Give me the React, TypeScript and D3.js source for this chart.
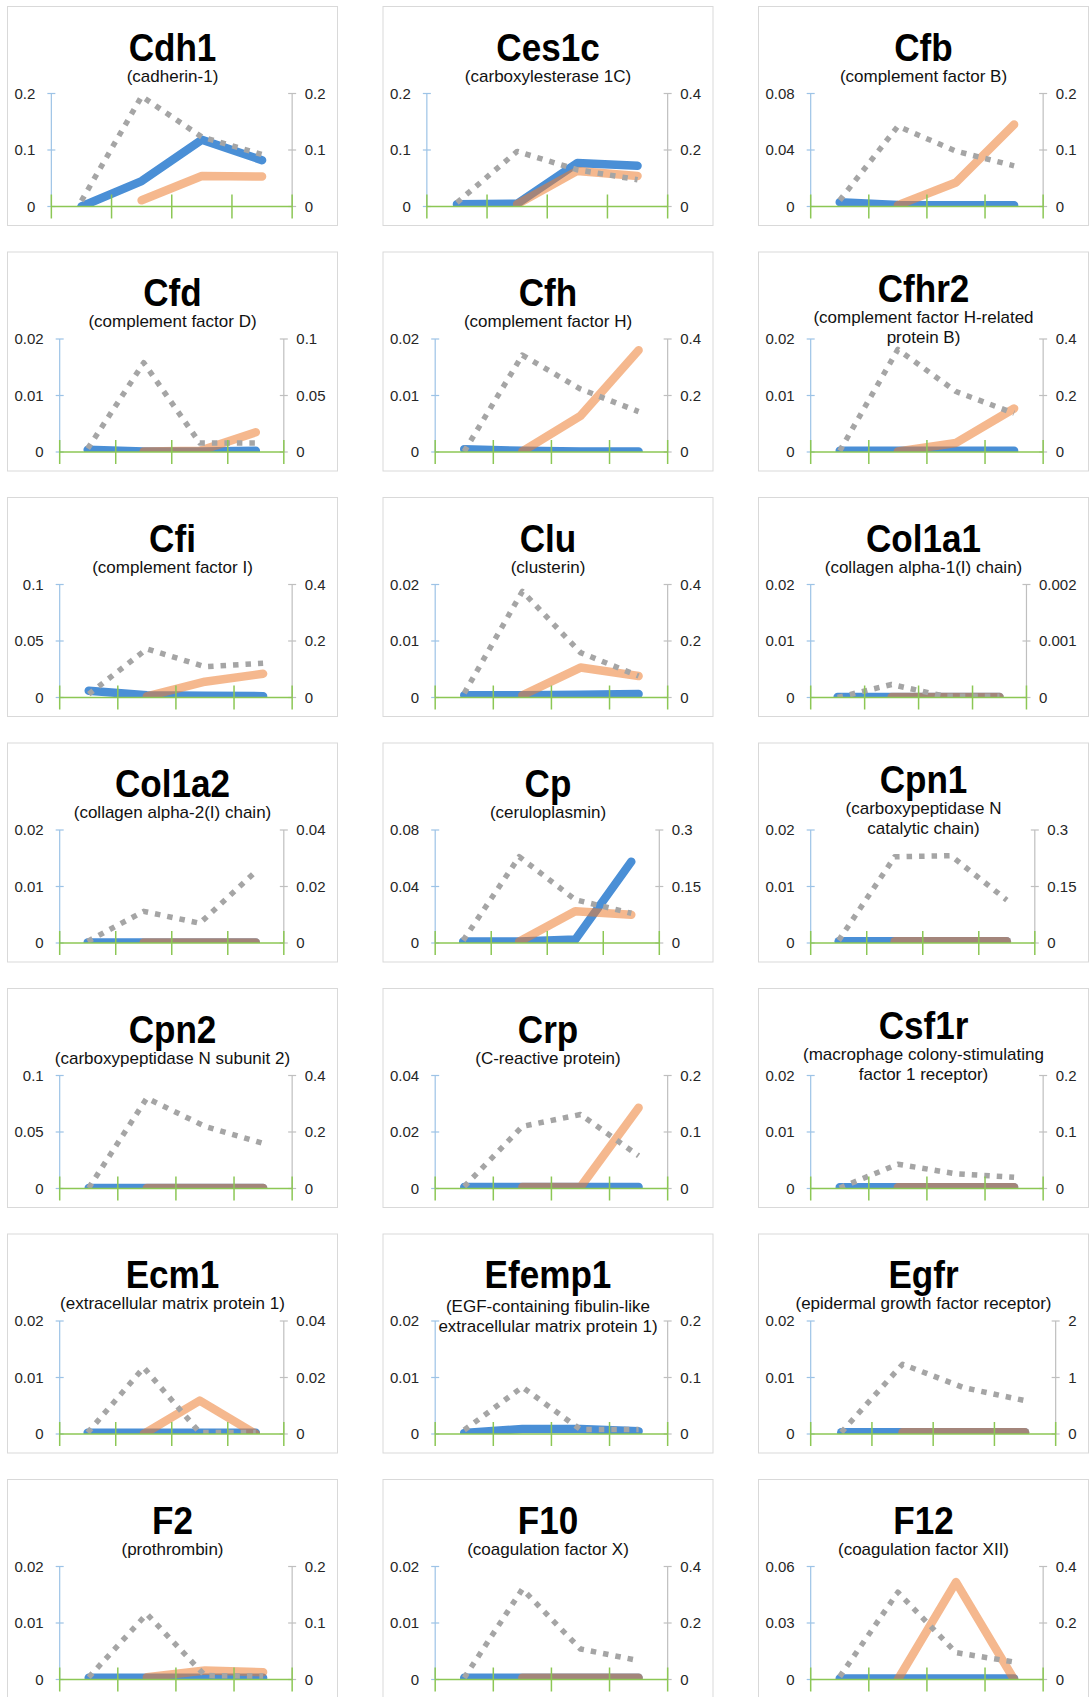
import React from 'react';
import * as d3 from 'd3';

// four sampling points per gene (x categories are unlabeled in the figure)
const categories = ['P1', 'P2', 'P3', 'P4'];

const genes = [
  'Cdh1', 'Ces1c', 'Cfb', 'Cfd', 'Cfh', 'Cfhr2', 'Cfi', 'Clu', 'Col1a1', 'Col1a2', 'Cp',
  'Cpn1', 'Cpn2', 'Crp', 'Csf1r', 'Ecm1', 'Efemp1', 'Egfr', 'F2', 'F10', 'F12',
];

const proteins = [
  ['(cadherin-1)'],
  ['(carboxylesterase 1C)'],
  ['(complement factor B)'],
  ['(complement factor D)'],
  ['(complement factor H)'],
  ['(complement factor H-related', 'protein B)'],
  ['(complement factor I)'],
  ['(clusterin)'],
  ['(collagen alpha-1(I) chain)'],
  ['(collagen alpha-2(I) chain)'],
  ['(ceruloplasmin)'],
  ['(carboxypeptidase N', 'catalytic chain)'],
  ['(carboxypeptidase N subunit 2)'],
  ['(C-reactive protein)'],
  ['(macrophage colony-stimulating', 'factor 1 receptor)'],
  ['(extracellular matrix protein 1)'],
  ['(EGF-containing fibulin-like', 'extracellular matrix protein 1)'],
  ['(epidermal growth factor receptor)'],
  ['(prothrombin)'],
  ['(coagulation factor X)'],
  ['(coagulation factor XII)'],
];

// primary (left) axis tick labels
const leftTicks = [
  ['0', '0.1', '0.2'], ['0', '0.1', '0.2'], ['0', '0.04', '0.08'],
  ['0', '0.01', '0.02'], ['0', '0.01', '0.02'], ['0', '0.01', '0.02'],
  ['0', '0.05', '0.1'], ['0', '0.01', '0.02'], ['0', '0.01', '0.02'],
  ['0', '0.01', '0.02'], ['0', '0.04', '0.08'], ['0', '0.01', '0.02'],
  ['0', '0.05', '0.1'], ['0', '0.02', '0.04'], ['0', '0.01', '0.02'],
  ['0', '0.01', '0.02'], ['0', '0.01', '0.02'], ['0', '0.01', '0.02'],
  ['0', '0.01', '0.02'], ['0', '0.01', '0.02'], ['0', '0.03', '0.06'],
];

// secondary (right) axis tick labels
const rightTicks = [
  ['0', '0.1', '0.2'], ['0', '0.2', '0.4'], ['0', '0.1', '0.2'],
  ['0', '0.05', '0.1'], ['0', '0.2', '0.4'], ['0', '0.2', '0.4'],
  ['0', '0.2', '0.4'], ['0', '0.2', '0.4'], ['0', '0.001', '0.002'],
  ['0', '0.02', '0.04'], ['0', '0.15', '0.3'], ['0', '0.15', '0.3'],
  ['0', '0.2', '0.4'], ['0', '0.1', '0.2'], ['0', '0.1', '0.2'],
  ['0', '0.02', '0.04'], ['0', '0.1', '0.2'], ['0', '1', '2'],
  ['0', '0.1', '0.2'], ['0', '0.2', '0.4'], ['0', '0.2', '0.4'],
];

// blue series, left axis
const blueSeries = [
  [0, 0.045, 0.118, 0.082],
  [0.004, 0.005, 0.077, 0.072],
  [0.003, 0.001, 0.0008, 0.0008],
  [0.0004, 0.0001, 0.0001, 0.0002],
  [0.0005, 0.0002, 0.0001, 0.0001],
  [0.0002, 0.0002, 0.0002, 0.0002],
  [0.006, 0.002, 0.0015, 0.0012],
  [0.0004, 0.0004, 0.0005, 0.0006],
  [0.0001, 0.0001, 0.0001, 0.0001],
  [0.0001, 0.0001, 0.0001, 0.0001],
  [0.001, 0.001, 0.0024, 0.0576],
  [0.0003, 0.0003, 0.0003, 0.0003],
  [0.0005, 0.0005, 0.0005, 0.0005],
  [0.0005, 0.0005, 0.0005, 0.0005],
  [0.0002, 0.0002, 0.0002, 0.0002],
  [0.0002, 0.0002, 0.0002, 0.0002],
  [0.0002, 0.0009, 0.0009, 0.0005],
  [0.0003, 0.0003, 0.0003, 0.0003],
  [0.0003, 0.0003, 0.0003, 0.0003],
  [0.0003, 0.0003, 0.0003, 0.0003],
  [0.0005, 0.0005, 0.0005, 0.0005],
];

// orange series, left axis (no value at the first point)
const orangeSeries: (number | null)[][] = [
  [null, 0.011, 0.054, 0.053],
  [null, 0.004, 0.063, 0.054],
  [null, 0.001, 0.017, 0.058],
  [null, 0.0001, 0.0002, 0.0035],
  [null, 0.0001, 0.0064, 0.018],
  [null, 0.0001, 0.0016, 0.0077],
  [null, 0.001, 0.014, 0.021],
  [null, 0.0004, 0.0053, 0.0038],
  [null, 0.0001, 0.0001, 0.0001],
  [null, 0.0001, 0.0001, 0.0001],
  [null, 0.001, 0.0224, 0.02],
  [null, 0.0003, 0.0003, 0.0003],
  [null, 0.0005, 0.0005, 0.0005],
  [null, 0.0005, 0.0005, 0.0286],
  [null, 0.0002, 0.0002, 0.0002],
  [null, 0, 0.0059, 0],
  [null, null, null, null],
  [null, 0.0003, 0.0003, 0.0003],
  [null, 0.0004, 0.0016, 0.0013],
  [null, 0.0003, 0.0003, 0.0003],
  [null, 0, 0.0517, 0],
];

// grey dotted series, right axis
const greySeries = [
  [0.01, 0.195, 0.123, 0.092],
  [0.014, 0.195, 0.13, 0.095],
  [0.011, 0.142, 0.098, 0.072],
  [0.003, 0.079, 0.008, 0.008],
  [0.002, 0.343, 0.223, 0.143],
  [0.004, 0.363, 0.214, 0.137],
  [0.012, 0.172, 0.109, 0.121],
  [0.015, 0.376, 0.159, 0.076],
  [0, 0.00023, 0.00002, 0.00002],
  [0.0006, 0.0112, 0.007, 0.0253],
  [0.007, 0.229, 0.115, 0.079],
  [0.007, 0.229, 0.232, 0.114],
  [0.002, 0.32, 0.22, 0.16],
  [0.0035, 0.11, 0.131, 0.058],
  [0.001, 0.043, 0.026, 0.02],
  [0.0005, 0.0235, 0.0005, 0.0005],
  [0.007, 0.083, 0.008, 0.008],
  [0.03, 1.235, 0.82, 0.59],
  [0.004, 0.116, 0.007, 0.006],
  [0.006, 0.32, 0.108, 0.067],
  [0.01, 0.309, 0.095, 0.062],
];

const W = 1090;
const H = 1697;
const PANEL_W = 330;
const PANEL_H = 219;
const FONT = "'Liberation Sans', Arial, sans-serif";
// a couple of subtitles sit a little lower in the original layout
const subtitleShift: Record<string, number> = { Efemp1: 7 };

// rough width of a 15px tick label
const labelWidth = (s: string) =>
  s.split('').reduce((a, c) => a + (c === '.' ? 4.17 : 8.34), 0);

function Panel({ i }: { i: number }) {
  const col = i % 3;
  const row = Math.floor(i / 3);
  const px = 7.5 + col * 375.5;
  const py = 6.5 + row * 245.5;
  const cx = px + PANEL_W / 2;

  const lt = leftTicks[i];
  const rt = rightTicks[i];
  const lw = d3.max(lt, labelWidth) as number;
  const rw = d3.max(rt, labelWidth) as number;
  const left = px + 7 + lw + 16;
  const right = px + PANEL_W - 12 - rw - 12.5;
  const top = py + 87;
  const zero = py + 200;

  const x = d3.scaleBand().domain(categories).range([left, right]).padding(0);
  const yL = d3.scaleLinear().domain([0, +lt[2]]).range([zero, top]);
  const yR = d3.scaleLinear().domain([0, +rt[2]]).range([zero, top]);
  const xc = (j: number) => (x(categories[j]) as number) + x.bandwidth() / 2;

  const lineL = d3.line<number | null>()
    .defined(d => d != null)
    .x((_, j) => xc(j))
    .y(d => yL(d as number));
  const lineR = d3.line<number>()
    .x((_, j) => xc(j))
    .y(d => yR(d));

  const bounds = [...categories.map(c => x(c) as number), right];
  const sub = proteins[i];
  const shift = subtitleShift[genes[i]] || 0;
  const twoLine = sub.length === 2;
  const subY = (twoLine ? [71, 91] : [75]).map(v => v + shift);
  const titleY = twoLine ? Math.min(54, 50 + shift) : 54;

  return (
    <g>
      <rect x={px} y={py} width={PANEL_W} height={PANEL_H} fill="#fff" stroke="#d9d9d9" strokeWidth={1} />
      <text
        transform={`translate(${cx},${py + titleY}) scale(0.9,1)`}
        textAnchor="middle"
        fontFamily={FONT}
        fontWeight="bold"
        fontSize={39}
        fill="#000"
      >
        {genes[i]}
      </text>
      {sub.map((s, k) => (
        <text key={k} x={cx} y={py + subY[k]} textAnchor="middle" fontFamily={FONT} fontSize={17} fill="#111">
          {s}
        </text>
      ))}

      {/* left axis */}
      <line x1={left} x2={left} y1={top} y2={zero} stroke="#9dc3e6" strokeWidth={1.2} />
      {lt.map(t => (
        <g key={'l' + t}>
          <line x1={left - 4} x2={left + 4} y1={yL(+t)} y2={yL(+t)} stroke="#9dc3e6" strokeWidth={1.2} />
          <text x={left - 16} y={yL(+t)} dy="0.36em" textAnchor="end" fontFamily={FONT} fontSize={15} fill="#262626">
            {t}
          </text>
        </g>
      ))}

      {/* right axis */}
      <line x1={right} x2={right} y1={top} y2={zero} stroke="#bfbfbf" strokeWidth={1.2} />
      {rt.map(t => (
        <g key={'r' + t}>
          <line x1={right - 4} x2={right + 4} y1={yR(+t)} y2={yR(+t)} stroke="#bfbfbf" strokeWidth={1.2} />
          <text x={right + 12.5} y={yR(+t)} dy="0.36em" textAnchor="start" fontFamily={FONT} fontSize={15} fill="#262626">
            {t}
          </text>
        </g>
      ))}

      <clipPath id={`clip${i}`}>
        <rect x={left} y={top - 20} width={right - left} height={zero - top + 20} />
      </clipPath>
      <g clipPath={`url(#clip${i})`} fill="none" strokeLinejoin="round">
        <path d={lineL(blueSeries[i]) || ''} stroke="#4a8fd6" strokeWidth={8.5} strokeLinecap="round" />
        <path d={lineL(orangeSeries[i]) || ''} stroke="#ed7d31" strokeOpacity={0.55} strokeWidth={8.5} strokeLinecap="round" />
        <path d={lineR(greySeries[i]) || ''} stroke="#a5a5a5" strokeWidth={5.5} strokeDasharray="5.5 7" strokeLinecap="butt" />
      </g>

      {/* category axis */}
      <line x1={left} x2={right} y1={zero} y2={zero} stroke="#8cc755" strokeWidth={1.5} />
      {bounds.map((b, k) => (
        <line key={k} x1={b} x2={b} y1={zero - 12} y2={zero + 12} stroke="#8cc755" strokeWidth={1.5} />
      ))}
    </g>
  );
}

export default function App() {
  return (
    <svg
      width={W}
      height={H}
      viewBox={`0 0 ${W} ${H}`}
      style={{ position: 'absolute', left: 0, top: 0, background: '#fff' }}
    >
      <rect width={W} height={H} fill="#fff" />
      {genes.map((_, i) => (
        <Panel key={i} i={i} />
      ))}
    </svg>
  );
}
